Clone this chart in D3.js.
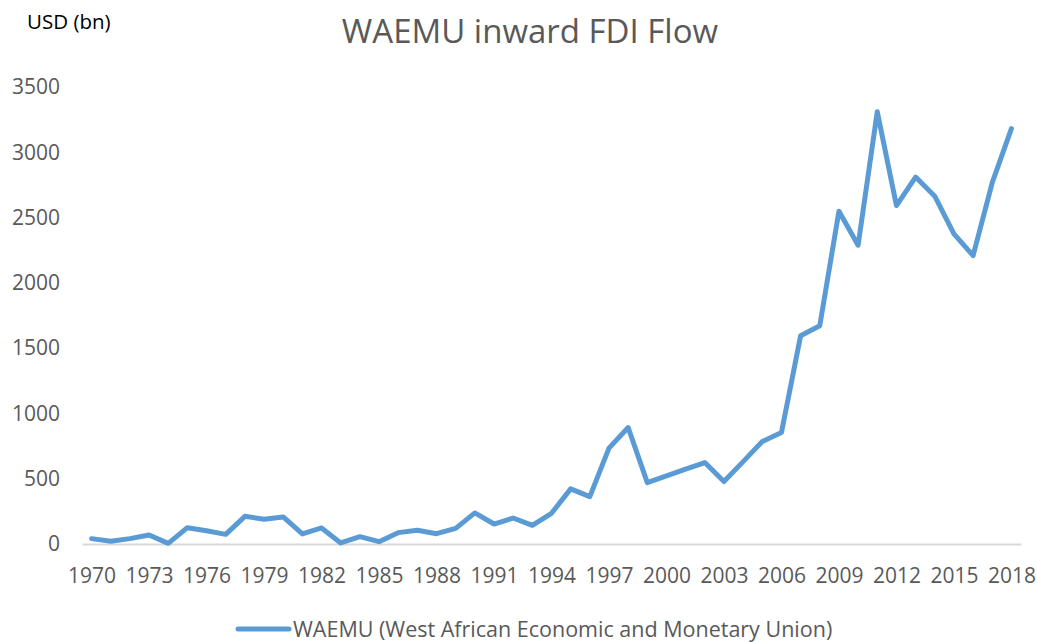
<!DOCTYPE html>
<html>
<head>
<meta charset="utf-8">
<script src="https://cdn.jsdelivr.net/npm/d3@7"></script>
<style>
  body { margin: 0; background: #fff; overflow: hidden; }
  svg { display: block; }
  text { font-family: "Open Sans", sans-serif; }
</style>
</head>
<body>
<div id="chart"></div>
<script>
// WAEMU inward FDI flow, USD (bn)
const years = d3.range(1970, 2019);
const fdiValues = [
  41, 21, 41, 69, 5, 125, 102, 74, 212, 189,
  207, 77, 123, 8, 56, 18, 87, 105, 79, 120,
  238, 153, 199, 143, 235, 422, 363, 734, 892, 470,
  521, 573, 624, 478, 631, 785, 854, 1595, 1672, 2549,
  2288, 3311, 2592, 2810, 2664, 2375, 2209, 2767, 3181
];
const yTicks = [0, 500, 1000, 1500, 2000, 2500, 3000, 3500];
const xTickYears = years.filter(y => (y - 1970) % 3 === 0);
const seriesName = "WAEMU (West African Economic and Monetary Union)";

const width = 1037;
const height = 642;
const margin = { top: 87, right: 16, bottom: 98, left: 82 };
const innerWidth = width - margin.left - margin.right;
const innerHeight = height - margin.top - margin.bottom;

const data = years.map((y, i) => ({ year: y, value: fdiValues[i] }));

const svg = d3.select("#chart")
  .append("svg")
  .attr("width", width)
  .attr("height", height);

const g = svg.append("g")
  .attr("transform", `translate(${margin.left},${margin.top})`);

const x = d3.scalePoint()
  .domain(years)
  .range([0, innerWidth])
  .padding(0.5);

const y = d3.scaleLinear()
  .domain([0, 3500])
  .range([innerHeight, 0]);

// Title
svg.append("text")
  .attr("x", 530)
  .attr("y", 43)
  .attr("text-anchor", "middle")
  .style("font-size", "33px")
  .style("fill", "#595959")
  .text("WAEMU inward FDI Flow");

// unit label
svg.append("text")
  .attr("x", 27)
  .attr("y", 29)
  .style("font-size", "20.5px")
  .style("fill", "#000")
  .text("USD (bn)");

// Y axis labels
const yAxis = d3.axisLeft(y).tickValues(yTicks).tickSize(0).tickPadding(22)
  .tickFormat(d3.format("d"));
const yAxisG = g.append("g").call(yAxis)
  .attr("font-size", 21)
  .attr("font-family", "'Open Sans', sans-serif");
yAxisG.select(".domain").remove();
yAxisG.selectAll("text")
  .style("fill", "#595959");

// X axis
const xAxis = d3.axisBottom(x).tickValues(xTickYears).tickSize(0).tickPadding(24);
const xAxisG = g.append("g")
  .attr("transform", `translate(0,${innerHeight})`)
  .call(xAxis)
  .attr("font-size", 21)
  .attr("font-family", "'Open Sans', sans-serif");
xAxisG.select(".domain")
  .attr("stroke", "#d9d9d9")
  .attr("stroke-width", 2);
xAxisG.selectAll("text")
  .style("fill", "#595959");

// Line
const line = d3.line()
  .x(d => x(d.year))
  .y(d => y(d.value));

g.append("path")
  .datum(data)
  .attr("fill", "none")
  .attr("stroke", "#5b9bd5")
  .attr("stroke-width", 5)
  .attr("stroke-linejoin", "round")
  .attr("stroke-linecap", "round")
  .attr("d", line);

// Legend
const legend = svg.append("g")
  .attr("transform", `translate(238, 629)`);
legend.append("line")
  .attr("x1", 0).attr("x2", 51)
  .attr("y1", 0).attr("y2", 0)
  .attr("stroke", "#5b9bd5")
  .attr("stroke-width", 5)
  .attr("stroke-linecap", "round");
legend.append("text")
  .attr("x", 55)
  .attr("y", 7.5)
  .style("font-size", "21.5px")
  .style("fill", "#595959")
  .text(seriesName);
</script>
</body>
</html>
